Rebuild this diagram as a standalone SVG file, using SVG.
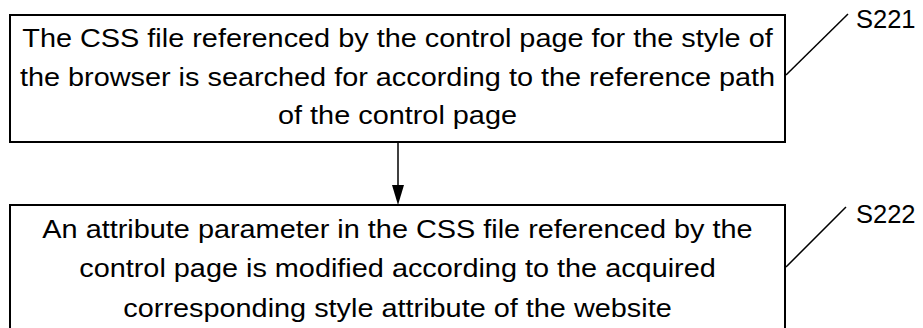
<svg xmlns="http://www.w3.org/2000/svg" width="923" height="328" viewBox="0 0 923 328">
<defs>
<style>
.box{fill:#fff;stroke:#000;stroke-width:2}
.t{font-family:"Liberation Sans",Arial,sans-serif;font-size:26px;fill:#000;text-anchor:middle}
.lbl{font-family:"Liberation Sans",Arial,sans-serif;font-size:25.5px;fill:#000}
.ln{stroke:#000;stroke-width:1.5;fill:none}
</style>
</defs>
<rect width="923" height="328" fill="#fff"/>
<g id="connectors">
<line class="ln" x1="398" y1="142" x2="398" y2="190" stroke-width="2"/>
<path d="M392,185 L404,185 L398,205 Z" fill="#000"/>
</g>
<g id="s221">
<rect class="box" x="10" y="15" width="775" height="127"/>
<g transform="translate(397.5 0) scale(1.11 1)">
<text class="t" x="0" y="47">The CSS file referenced by the control page for the style of</text>
<text class="t" x="0" y="86">the browser is searched for according to the reference path</text>
<text class="t" x="0" y="124">of the control page</text>
</g>
<line class="ln" x1="786" y1="75" x2="848" y2="14"/>
<text class="lbl" x="856" y="28">S221</text>
</g>
<g id="s222">
<rect class="box" x="10" y="205" width="775" height="130"/>
<g transform="translate(397.5 0) scale(1.11 1)">
<text class="t" x="0" y="238">An attribute parameter in the CSS file referenced by the</text>
<text class="t" x="0" y="277">control page is modified according to the acquired</text>
<text class="t" x="0" y="317">corresponding style attribute of the website</text>
</g>
<line class="ln" x1="786" y1="267" x2="846" y2="207"/>
<text class="lbl" x="856" y="223">S222</text>
</g>
</svg>
